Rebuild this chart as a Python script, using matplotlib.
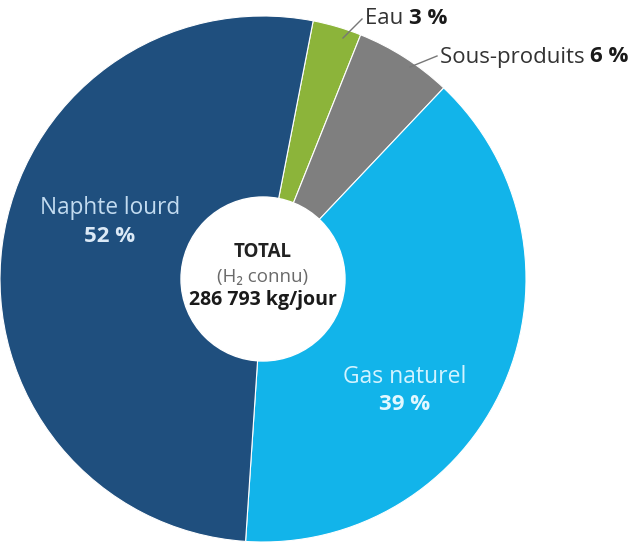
import matplotlib.pyplot as plt

plt.rcParams['font.family'] = ['Open Sans', 'DejaVu Sans']

labels = ['Eau', 'Sous-produits', 'Gas naturel', 'Naphte lourd']
shares = [3, 6, 39, 52]
colors = ['#8cb43a', '#7f7f7f', '#12b4ea', '#1f4f7e']
total_text = '286 793 kg/jour'

W, H = 636, 542
fig = plt.figure(figsize=(6.36, 5.42), dpi=100)
ax = fig.add_axes([0, 0, 1, 1])

cx, cy, r = 263, H - 279, 263
ax.pie(shares, colors=colors, startangle=79, counterclock=False,
       center=(cx, cy), radius=r, frame=True,
       wedgeprops=dict(edgecolor='white', linewidth=0.8))
ax.add_patch(plt.Circle((cx, cy), 82, color='white', zorder=3))
ax.set_xlim(0, W)
ax.set_ylim(0, H)
ax.set_aspect('equal')
ax.axis('off')

# centre
ax.text(cx, H - 252, 'TOTAL', ha='center', va='center', fontsize=13.5,
        fontweight='bold', color='#222222', zorder=4)
ax.text(cx, H - 277, '(H₂ connu)', ha='center', va='center', fontsize=13.5,
        color='#6a6a6a', zorder=4)
ax.text(cx, H - 300, total_text, ha='center', va='center', fontsize=14,
        fontweight='bold', color='#1a1a1a', zorder=4)

# inside labels
ax.text(110, H - 208, labels[3], ha='center', va='center', fontsize=16.3,
        color='#c2dbf0')
ax.text(110, H - 237, f'{shares[3]} %', ha='center', va='center', fontsize=16,
        fontweight='bold', color='#dbe9f6')
ax.text(405, H - 377, labels[2], ha='center', va='center', fontsize=16.5,
        color='#d2f3ff')
ax.text(405, H - 404, f'{shares[2]} %', ha='center', va='center', fontsize=16,
        fontweight='bold', color='#e2f8ff')

# outside labels with leader lines
renderer = fig.canvas.get_renderer()


def outside_label(x, y, name, pct):
    t = ax.text(x, y, name + ' ', ha='left', va='center', fontsize=16,
                color='#333333')
    bb = t.get_window_extent(renderer)
    x2 = ax.transData.inverted().transform((bb.x1, 0))[0]
    ax.text(x2, y, f'{pct} %', ha='left', va='center', fontsize=16,
            fontweight='bold', color='#1a1a1a')


ax.plot([343, 362], [H - 38, H - 19], color='#777777', lw=1)
outside_label(365, H - 18, labels[0], shares[0])
ax.plot([410, 437], [H - 67, H - 56], color='#777777', lw=1)
outside_label(440, H - 57, labels[1], shares[1])

fig.savefig('out.png', dpi=100)
